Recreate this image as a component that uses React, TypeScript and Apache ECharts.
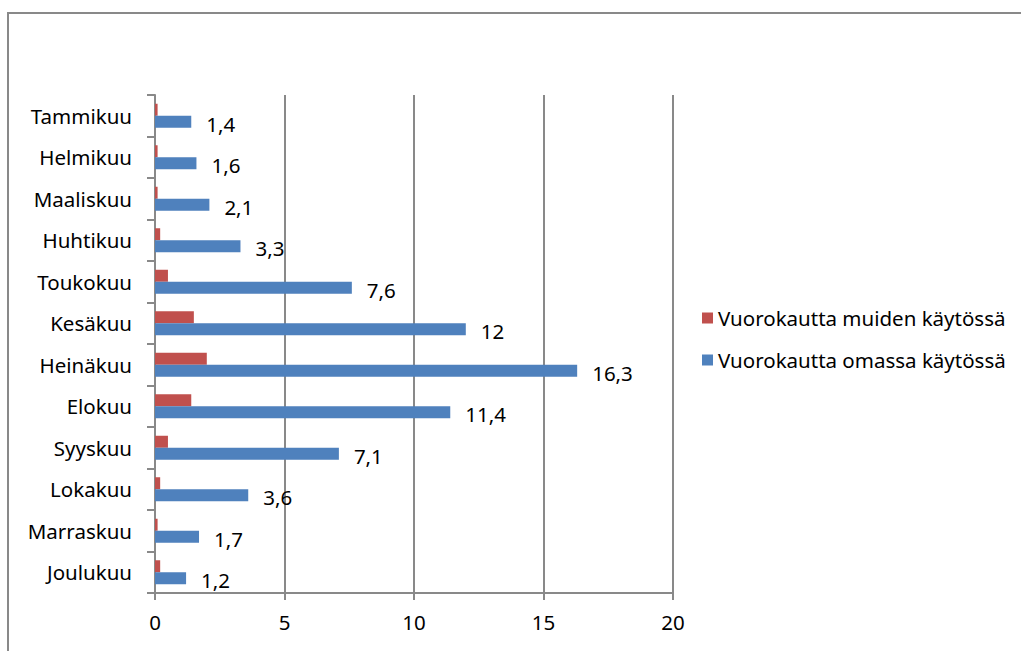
import React, { useEffect, useRef } from "react";
import * as echarts from "echarts";

const months = [
  "Tammikuu", "Helmikuu", "Maaliskuu", "Huhtikuu", "Toukokuu", "Kesäkuu",
  "Heinäkuu", "Elokuu", "Syyskuu", "Lokakuu", "Marraskuu", "Joulukuu",
];
const seriesNames = ["Vuorokautta muiden käytössä", "Vuorokautta omassa käytössä"];
const muiden = [0.1, 0.1, 0.1, 0.2, 0.5, 1.5, 2.0, 1.4, 0.5, 0.2, 0.1, 0.2];
const omassa = [1.4, 1.6, 2.1, 3.3, 7.6, 12, 16.3, 11.4, 7.1, 3.6, 1.7, 1.2];
const xTicks = { min: 0, max: 20, interval: 5 };

const FONT = "Noto Sans";
const GRAY = "#898989";
const FS = 20.5;

export default function App() {
  const ref = useRef<HTMLDivElement>(null);
  useEffect(() => {
    if (!ref.current) return;
    const chart = echarts.init(ref.current, undefined, { renderer: "svg" });
    chart.setOption({
      animation: false,
      backgroundColor: "#ffffff",
      textStyle: { fontFamily: FONT, color: "#000" },
      graphic: [
        {
          type: "rect",
          shape: { x: 8, y: 13, width: 1100, height: 700 },
          style: { fill: "none", stroke: GRAY, lineWidth: 2 },
          silent: true,
        },
      ],
      grid: { left: 155, right: 348, top: 95, bottom: 58, containLabel: false },
      legend: {
        orient: "vertical",
        left: 697,
        top: 302,
        icon: "rect",
        itemWidth: 11,
        itemHeight: 11,
        itemGap: 20,
        textStyle: { fontFamily: FONT, fontSize: FS, color: "#000", lineHeight: 22, padding: [0, 0, 0, 0] },
        data: seriesNames,
      },
      xAxis: {
        type: "value",
        min: xTicks.min,
        max: xTicks.max,
        interval: xTicks.interval,
        axisLine: { show: true, lineStyle: { color: GRAY, width: 2 } },
        axisTick: { show: true, length: 7, lineStyle: { color: GRAY, width: 2 } },
        splitLine: { show: true, lineStyle: { color: GRAY, width: 2 } },
        axisLabel: { fontFamily: FONT, fontSize: FS, color: "#000", margin: 18 },
      },
      yAxis: {
        type: "category",
        inverse: true,
        data: months,
        axisLine: { show: true, lineStyle: { color: GRAY, width: 2 } },
        axisTick: { show: true, length: 8, lineStyle: { color: GRAY, width: 2 } },
        axisLabel: { fontFamily: FONT, fontSize: FS, color: "#000", margin: 23 },
      },
      series: [
        {
          name: seriesNames[0],
          type: "bar",
          data: muiden,
          barWidth: 12,
          barGap: "0%",
          itemStyle: { color: "#C0504D" },
        },
        {
          name: seriesNames[1],
          type: "bar",
          data: omassa,
          barWidth: 12,
          barGap: "0%",
          itemStyle: { color: "#4F81BD" },
          label: {
            show: true,
            position: "right",
            distance: 15,
            offset: [0, 2],
            fontFamily: FONT,
            fontSize: FS,
            color: "#000",
            formatter: (p: any) => String(p.value).replace(".", ","),
          },
        },
      ],
    });
    return () => chart.dispose();
  }, []);
  return (
    <div
      ref={ref}
      style={{ position: "fixed", left: 0, top: 0, width: 1021, height: 651 }}
    />
  );
}
